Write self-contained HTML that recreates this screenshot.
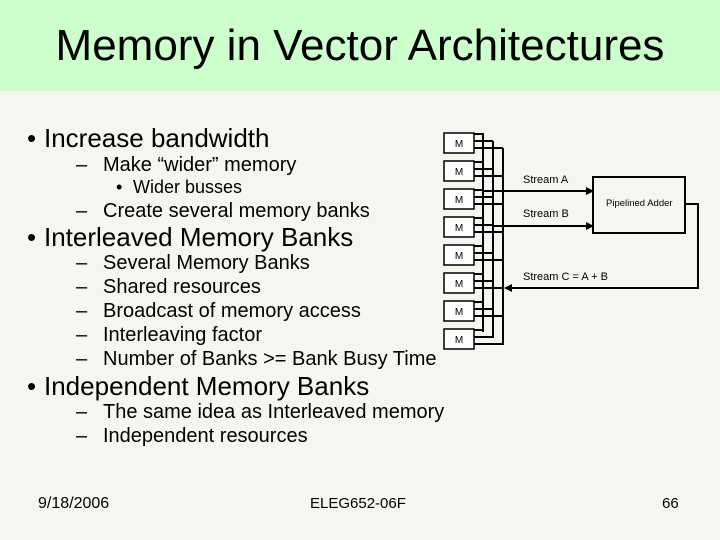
<!DOCTYPE html>
<html><head><style>
body{margin:0;width:720px;height:540px;background:#f6f5f0;position:relative;overflow:hidden;font-family:"Liberation Sans",sans-serif;color:#000}
.t{position:absolute;white-space:nowrap;line-height:1}
.l1{font-size:26px}.l2{font-size:20px}.l3{font-size:18px}
</style></head><body>
<div style="position:absolute;left:0;top:0;width:720px;height:91px;background:#ccffcc"></div>
<div class="t" style="left:0;width:720px;text-align:center;top:24px;font-size:44px">Memory in Vector Architectures</div>

<div class="t l1" style="left:27px;top:125px">•</div><div class="t l1" style="left:44px;top:125px">Increase bandwidth</div>
<div class="t l2" style="left:76px;top:155px">–</div><div class="t l2" style="left:103px;top:155px">Make “wider” memory</div>
<div class="t l3" style="left:116px;top:178px">•</div><div class="t l3" style="left:133px;top:178px">Wider busses</div>
<div class="t l2" style="left:76px;top:201px">–</div><div class="t l2" style="left:103px;top:201px">Create several memory banks</div>
<div class="t l1" style="left:27px;top:224px">•</div><div class="t l1" style="left:44px;top:224px">Interleaved Memory Banks</div>
<div class="t l2" style="left:76px;top:253px">–</div><div class="t l2" style="left:103px;top:253px">Several Memory Banks</div>
<div class="t l2" style="left:76px;top:277px">–</div><div class="t l2" style="left:103px;top:277px">Shared resources</div>
<div class="t l2" style="left:76px;top:301px">–</div><div class="t l2" style="left:103px;top:301px">Broadcast of memory access</div>
<div class="t l2" style="left:76px;top:325px">–</div><div class="t l2" style="left:103px;top:325px">Interleaving factor</div>
<div class="t l2" style="left:76px;top:349px">–</div><div class="t l2" style="left:103px;top:349px">Number of Banks &gt;= Bank Busy Time</div>
<div class="t l1" style="left:27px;top:373px">•</div><div class="t l1" style="left:44px;top:373px">Independent Memory Banks</div>
<div class="t l2" style="left:76px;top:402px">–</div><div class="t l2" style="left:103px;top:402px">The same idea as Interleaved memory</div>
<div class="t l2" style="left:76px;top:426px">–</div><div class="t l2" style="left:103px;top:426px">Independent resources</div>

<div class="t" style="left:38px;top:496px;font-size:16px">9/18/2006</div>
<div class="t" style="left:310px;top:496px;font-size:15px">ELEG652-06F</div>
<div class="t" style="left:662px;top:496px;font-size:15px">66</div>

<svg width="720" height="540" style="position:absolute;left:0;top:0" font-family="Liberation Sans" font-size="11">
<defs><marker id="a" markerWidth="8" markerHeight="8" refX="7" refY="4" orient="auto" markerUnits="userSpaceOnUse"><path d="M0,0L8,4L0,8z" fill="#000"/></marker></defs>
<g stroke="#000" stroke-width="2" fill="none">
<line x1="483" y1="133" x2="483" y2="332"/>
<line x1="493" y1="141" x2="493" y2="338"/>
<line x1="503" y1="148" x2="503" y2="345"/>
</g>
<g stroke="#000" stroke-width="1.5">
<g fill="#fff">
<rect x="444" y="133" width="30" height="20"/><rect x="444" y="161" width="30" height="20"/>
<rect x="444" y="189" width="30" height="20"/><rect x="444" y="217" width="30" height="20"/>
<rect x="444" y="245" width="30" height="20"/><rect x="444" y="273" width="30" height="20"/>
<rect x="444" y="301" width="30" height="20"/><rect x="444" y="329" width="30" height="20"/>
</g>
<path stroke-width="2" fill="none" d="M474,134H483M474,141H493M474,148H503 M474,162H483M474,169H493M474,176H503 M474,190H483M474,197H493M474,204H503 M474,218H483M474,225H493M474,232H503 M474,246H483M474,253H493M474,260H503 M474,274H483M474,281H493M474,288H503 M474,302H483M474,309H493M474,316H503 M474,330H483M474,337H493M474,344H503"/>
</g>
<g fill="#000" font-size="10">
<text x="459" y="147" text-anchor="middle">M</text><text x="459" y="175" text-anchor="middle">M</text>
<text x="459" y="203" text-anchor="middle">M</text><text x="459" y="231" text-anchor="middle">M</text>
<text x="459" y="259" text-anchor="middle">M</text><text x="459" y="287" text-anchor="middle">M</text>
<text x="459" y="315" text-anchor="middle">M</text><text x="459" y="343" text-anchor="middle">M</text>
</g>
<rect x="593" y="177" width="92" height="56" fill="none" stroke="#000" stroke-width="2"/>
<g stroke="#000" stroke-width="2" fill="none">
<line x1="483" y1="191" x2="593" y2="191" marker-end="url(#a)"/>
<line x1="493" y1="226" x2="593" y2="226" marker-end="url(#a)"/>
<polyline points="685,204 698,204 698,288 505,288" marker-end="url(#a)"/>
</g>
<text x="523" y="183">Stream A</text>
<text x="523" y="217">Stream B</text>
<text x="606" y="206" font-size="9.5">Pipelined Adder</text>
<text x="523" y="280">Stream C = A + B</text>
</svg>
</body></html>
